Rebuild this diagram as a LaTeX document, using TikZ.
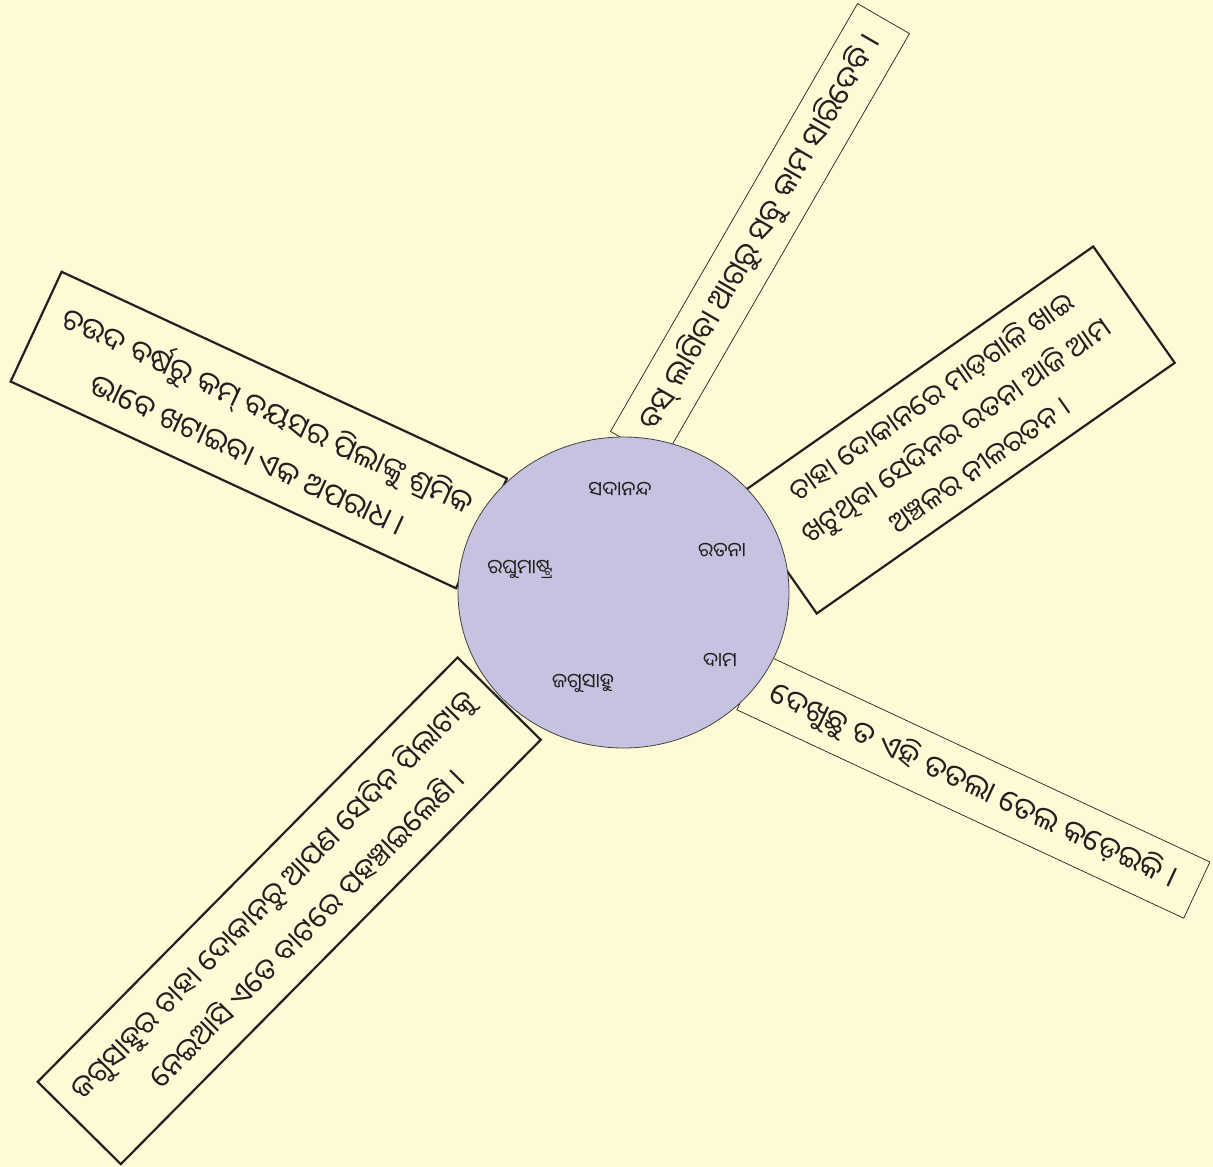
\documentclass[tikz,border=0pt]{standalone}
\usepackage{fontspec}
\newfontfamily\odia[Script=Oriya]{Noto Sans Oriya UI}
\definecolor{paper}{HTML}{FFFAD6}
\definecolor{disc}{HTML}{C5C3E0}
\definecolor{ink}{HTML}{231F20}

\begin{document}
\begin{tikzpicture}[x=1pt,y=-1pt,
  card/.style={draw=ink,fill=paper,text=ink,align=center,inner sep=0pt,
    font=\odia\fontsize{30}{48}\selectfont},
  boldcard/.style={card,line width=2.2pt},
  thincard/.style={card,line width=0.7pt},
  person/.style={text=ink,font=\odia\fontsize{20}{22}\selectfont}]
  \fill[paper] (0,0) rectangle (1213,1167);
  \useasboundingbox (0,0) rectangle (1213,1167);

  \node[thincard,minimum width=494pt,minimum height=60pt,rotate=60] (bus) at (760,232.5)
    {ବସ୍ ଲାଗିବା ଆଗରୁ ସବୁ କାମ ସାରିଦେବି ।};
  \node[boldcard,minimum width=491pt,minimum height=121pt,rotate=-24.9] (law) at (258.8,430)
    {ଚଉଦ ବର୍ଷରୁ କମ୍ ବୟସର ପିଲାଙ୍କୁ ଶ୍ରମିକ\\ଭାବେ ଖଟାଇବା ଏକ ଅପରାଧ ।};
  \node[boldcard,minimum width=437pt,minimum height=142pt,rotate=35,
    font=\odia\fontsize{28}{42}\selectfont] (gem) at (955,430)
    {ଚାହା ଦୋକାନରେ ମାଡ଼ଗାଳି ଖାଇ\\ଖଟୁଥିବା ସେଦିନର ରତନା ଆଜି ଆମ\\ଅଞ୍ଚଳର ନୀଳରତନ ।};
  \node[thincard,minimum width=493pt,minimum height=62pt,rotate=-25] (oil) at (973.4,785.9)
    {ଦେଖୁଛୁ ତ ଏହି ତତଲା ତେଲ କଡ଼େଇକି ।};
  \node[boldcard,minimum width=597pt,minimum height=117pt,rotate=45.3,
    font=\odia\fontsize{29}{48}\selectfont] (shop) at (289.2,910.8)
    {ଜଗୁସାହୁର ଚାହା ଦୋକାନରୁ ଆପଣ ସେଦିନ ପିଲାଟାକୁ\\ନେଇଆସି ଏତେ ବାଟରେ ପହଞ୍ଚାଇଲେଣି ।};

  \filldraw[fill=disc,draw=ink!85,line width=0.8pt] (623.5,592.5)
    ellipse [x radius=165.5,y radius=155.5];
  \node[person] (sadananda) at (620,490) {ସଦାନନ୍ଦ};
  \node[person] (ratana) at (722,551) {ରତନା};
  \node[person] (raghu) at (520,569) {ରଘୁମାଷ୍ଟ୍ର};
  \node[person] (dama) at (720,661) {ଦାମ};
  \node[person] (jagu) at (583,683) {ଜଗୁସାହୁ};
\end{tikzpicture}
\end{document}
